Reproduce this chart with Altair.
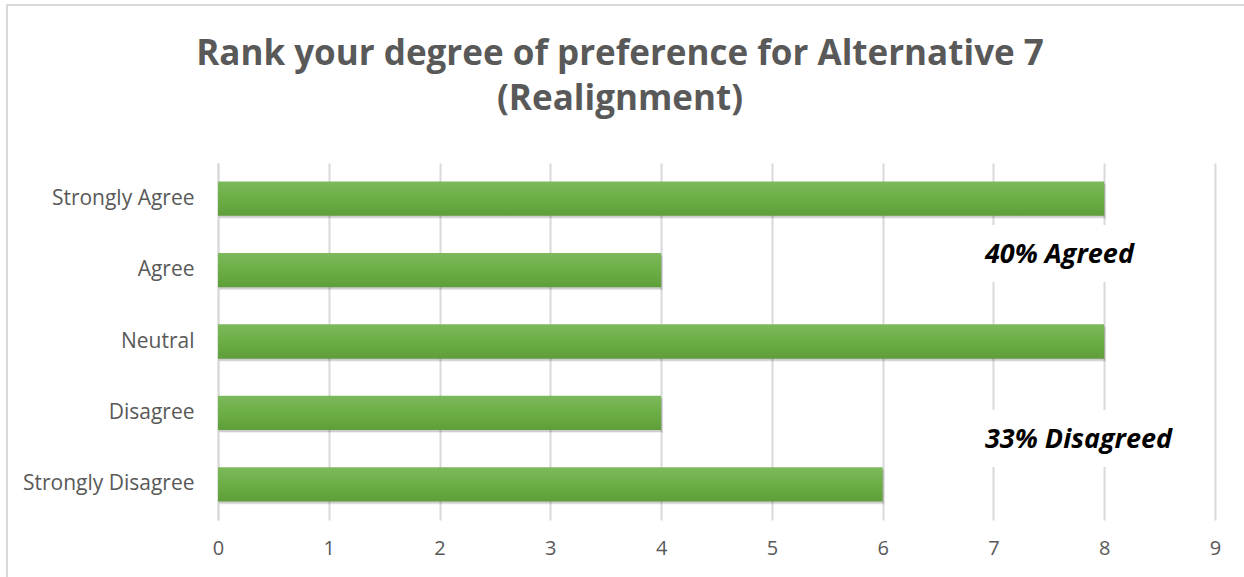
import altair as alt
import pandas as pd

# Survey responses
categories = ["Strongly Agree", "Agree", "Neutral", "Disagree", "Strongly Disagree"]
counts = [8, 4, 8, 4, 6]

title_lines = ["Rank your degree of preference for Alternative 7", "(Realignment)"]
notes = ["40% Agreed", "33% Disagreed"]

x_ticks = list(range(0, 10))

df = pd.DataFrame({"response": categories, "count": counts})

FONT = "Open Sans"
GREY = "#595959"
GRID = "#d9d9d9"

W, H = 997, 357

y_enc = alt.Y(
    "response:N",
    sort=categories,
    scale=alt.Scale(paddingInner=0.52, paddingOuter=0.26),
    axis=alt.Axis(
        title=None, ticks=False, grid=False, domain=True,
        domainColor=GRID, domainWidth=2,
        labelFont=FONT, labelFontSize=21, labelColor=GREY, labelPadding=24,
    ),
)
x_enc = alt.X(
    "count:Q",
    scale=alt.Scale(domain=[0, 9], nice=False),
    axis=alt.Axis(
        title=None, values=x_ticks, format="d", domain=False, ticks=False,
        grid=True, gridColor=GRID, gridWidth=2, labelFlush=False,
        labelFont=FONT, labelFontSize=20, labelColor=GREY, labelPadding=18,
    ),
)

base = alt.Chart(df)

shadow_far = base.mark_bar(
    color="#000000", opacity=0.06, xOffset=2, x2Offset=6, yOffset=3, y2Offset=7
).encode(x=x_enc, y=y_enc)
shadow_near = base.mark_bar(
    color="#000000", opacity=0.14, xOffset=1, x2Offset=3, yOffset=2, y2Offset=4
).encode(x=x_enc, y=y_enc)

green = alt.Gradient(
    gradient="linear",
    stops=[
        alt.GradientStop(color="#7cb95b", offset=0),
        alt.GradientStop(color="#6cae45", offset=0.5),
        alt.GradientStop(color="#5f9e3a", offset=1),
    ],
    x1=0, x2=0, y1=0, y2=1,
)
bars = base.mark_bar(color=green).encode(x=x_enc, y=y_enc)

# Annotation placement (pixels inside the plot area)
note_box_top = [62, 247]
note_box_bottom = [119, 304]
note_baseline = [100, 285]

layers = []

# White boxes behind the annotations hide the gridlines there
for top, bottom in zip(note_box_top, note_box_bottom):
    layers.append(
        alt.Chart(pd.DataFrame({"b": [0]})).mark_rect(color="white").encode(
            x=alt.value(747), x2=alt.value(986),
            y=alt.value(top), y2=alt.value(bottom),
        )
    )

layers += [shadow_far, shadow_near, bars]

for note, yb in zip(notes, note_baseline):
    layers.append(
        alt.Chart(pd.DataFrame({"note": [note]})).mark_text(
            font=FONT, fontSize=27, fontWeight="bold", fontStyle="italic",
            color="#000000", align="left", baseline="alphabetic",
        ).encode(x=alt.value(767), y=alt.value(yb), text="note:N")
    )

for line, yb in zip(title_lines, [-98, -53]):
    layers.append(
        alt.Chart(pd.DataFrame({"line": [line]})).mark_text(
            font=FONT, fontSize=35, fontWeight="bold", color=GREY,
            align="center", baseline="alphabetic",
        ).encode(x=alt.value(402), y=alt.value(yb), text="line:N")
    )

layers.append(
    alt.Chart(pd.DataFrame({"f": [0]})).mark_rect(
        fill=None, stroke=GRID, strokeWidth=2
    ).encode(
        x=alt.value(-211), x2=alt.value(1040),
        y=alt.value(-158), y2=alt.value(440),
    )
)

chart = alt.layer(*layers).properties(
    width=W, height=H,
    autosize=alt.AutoSizeParams(type="none"),
    padding={"left": 218, "top": 163, "right": 29, "bottom": 57},
    background="white",
).configure_view(stroke=None)

chart.save("out.html", embed_options={"renderer": "svg", "actions": False})
